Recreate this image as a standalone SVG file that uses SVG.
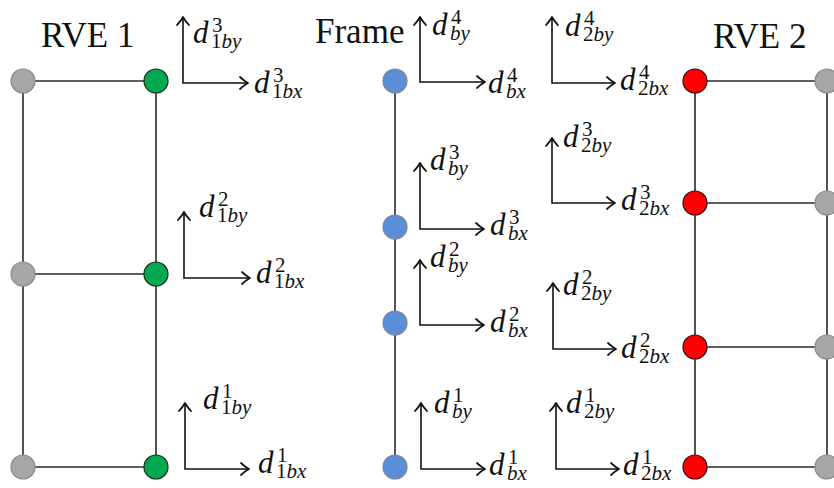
<svg xmlns="http://www.w3.org/2000/svg" width="834" height="488" viewBox="0 0 834 488">
<style>
.ln{stroke:#2a2a2a;stroke-width:1.6;fill:none}
.ax{stroke:#111;stroke-width:1.6;fill:none;marker-start:url(#ah);marker-end:url(#ah)}
.gray{fill:#a6a6a6;stroke:#8a8a8a;stroke-width:1.2}
.green{fill:#00a94f;stroke:#1c2e1c;stroke-width:1.2}
.blue{fill:#5a8fd8;stroke:#7d8793;stroke-width:1.2}
.red{fill:#ff0000;stroke:#3a0a0a;stroke-width:1.2}
.title{font-family:"Liberation Serif","DejaVu Serif",serif;font-size:35px;fill:#111}
.m{font-family:"Liberation Serif","DejaVu Serif",serif;font-size:31px;fill:#111}
.it{font-style:italic}
.s{font-size:21px}
</style>
<defs>
<marker id="ah" viewBox="-10 -10 20 20" refX="0" refY="0" markerWidth="20" markerHeight="20" markerUnits="userSpaceOnUse" orient="auto-start-reverse" overflow="visible">
<path d="M-8,-6 Q-3,-1.5 0,0 Q-3,1.5 -8,6" stroke="#111" stroke-width="1.8" fill="none" stroke-linecap="round" stroke-linejoin="round"/>
</marker>
</defs>
<rect width="834" height="488" fill="#fff"/>
<g id="connectors">
<path class="ln" d="M23,81V467M156,81V467M23,81H156M23,274H156M23,467H156"/>
<path class="ln" d="M395,81V467"/>
<path class="ln" d="M695,81V467M827,81V467M695,81H827M695,203H827M695,347H827M695,467H827"/>
<path class="ax" d="M183,17V83H248"/>
<path class="ax" d="M184,212V278H250"/>
<path class="ax" d="M185,403V469H249"/>
<path class="ax" d="M420,17V82H485"/>
<path class="ax" d="M420,163V229H484"/>
<path class="ax" d="M420,260V325H484"/>
<path class="ax" d="M421,403V469H485"/>
<path class="ax" d="M552,17V83H615"/>
<path class="ax" d="M552,138V203H615"/>
<path class="ax" d="M553,283V349H616"/>
<path class="ax" d="M556,403V469H619"/>
</g>
<g id="rve1">
<text class="title" x="41" y="47">RVE 1</text>
<circle class="gray" cx="23" cy="81" r="12"/>
<circle class="gray" cx="23" cy="274" r="12"/>
<circle class="gray" cx="23" cy="467" r="12"/>
<circle class="green" cx="156" cy="81" r="12"/>
<circle class="green" cx="156" cy="274" r="12"/>
<circle class="green" cx="156" cy="467" r="12"/>
</g>
<g id="frame">
<text class="title" x="315" y="43">Frame</text>
<circle class="blue" cx="395" cy="81" r="12"/>
<circle class="blue" cx="395" cy="227" r="12"/>
<circle class="blue" cx="395" cy="323" r="12"/>
<circle class="blue" cx="395" cy="467" r="12"/>
</g>
<g id="rve2">
<text class="title" x="713" y="48">RVE 2</text>
<circle class="red" cx="695" cy="81" r="12"/>
<circle class="red" cx="695" cy="203" r="12"/>
<circle class="red" cx="695" cy="347" r="12"/>
<circle class="red" cx="695" cy="467" r="12"/>
<circle class="gray" cx="827" cy="81" r="12"/>
<circle class="gray" cx="827" cy="203" r="12"/>
<circle class="gray" cx="827" cy="347" r="12"/>
<circle class="gray" cx="827" cy="467" r="12"/>
</g>
<g id="labels">
<text class="m" x="193" y="43"><tspan class="it">d</tspan><tspan class="s" x="212" y="32">3</tspan><tspan class="s" x="211" y="48">1<tspan class="it">by</tspan></tspan></text>
<text class="m" x="254" y="93"><tspan class="it">d</tspan><tspan class="s" x="273" y="82">3</tspan><tspan class="s" x="272" y="98">1<tspan class="it">bx</tspan></tspan></text>
<text class="m" x="199" y="217"><tspan class="it">d</tspan><tspan class="s" x="218" y="206">2</tspan><tspan class="s" x="217" y="222">1<tspan class="it">by</tspan></tspan></text>
<text class="m" x="256" y="283"><tspan class="it">d</tspan><tspan class="s" x="275" y="272">2</tspan><tspan class="s" x="274" y="288">1<tspan class="it">bx</tspan></tspan></text>
<text class="m" x="203" y="409"><tspan class="it">d</tspan><tspan class="s" x="222" y="398">1</tspan><tspan class="s" x="221" y="414">1<tspan class="it">by</tspan></tspan></text>
<text class="m" x="258" y="473"><tspan class="it">d</tspan><tspan class="s" x="277" y="462">1</tspan><tspan class="s" x="276" y="478">1<tspan class="it">bx</tspan></tspan></text>
<text class="m" x="432" y="35"><tspan class="it">d</tspan><tspan class="s" x="451" y="24">4</tspan><tspan class="s it" x="450" y="40">by</tspan></text>
<text class="m" x="488" y="93"><tspan class="it">d</tspan><tspan class="s" x="507" y="82">4</tspan><tspan class="s it" x="506" y="98">bx</tspan></text>
<text class="m" x="430" y="170"><tspan class="it">d</tspan><tspan class="s" x="449" y="159">3</tspan><tspan class="s it" x="448" y="175">by</tspan></text>
<text class="m" x="490" y="235"><tspan class="it">d</tspan><tspan class="s" x="509" y="224">3</tspan><tspan class="s it" x="508" y="240">bx</tspan></text>
<text class="m" x="430" y="267"><tspan class="it">d</tspan><tspan class="s" x="449" y="256">2</tspan><tspan class="s it" x="448" y="272">by</tspan></text>
<text class="m" x="490" y="332"><tspan class="it">d</tspan><tspan class="s" x="509" y="321">2</tspan><tspan class="s it" x="508" y="337">bx</tspan></text>
<text class="m" x="434" y="413"><tspan class="it">d</tspan><tspan class="s" x="453" y="402">1</tspan><tspan class="s it" x="452" y="418">by</tspan></text>
<text class="m" x="489" y="475"><tspan class="it">d</tspan><tspan class="s" x="508" y="464">1</tspan><tspan class="s it" x="507" y="480">bx</tspan></text>
<text class="m" x="565" y="36"><tspan class="it">d</tspan><tspan class="s" x="584" y="25">4</tspan><tspan class="s" x="583" y="41">2<tspan class="it">by</tspan></tspan></text>
<text class="m" x="620" y="90"><tspan class="it">d</tspan><tspan class="s" x="639" y="79">4</tspan><tspan class="s" x="638" y="95">2<tspan class="it">bx</tspan></tspan></text>
<text class="m" x="563" y="147"><tspan class="it">d</tspan><tspan class="s" x="582" y="136">3</tspan><tspan class="s" x="581" y="152">2<tspan class="it">by</tspan></tspan></text>
<text class="m" x="621" y="210"><tspan class="it">d</tspan><tspan class="s" x="640" y="199">3</tspan><tspan class="s" x="639" y="215">2<tspan class="it">bx</tspan></tspan></text>
<text class="m" x="563" y="295"><tspan class="it">d</tspan><tspan class="s" x="582" y="284">2</tspan><tspan class="s" x="581" y="300">2<tspan class="it">by</tspan></tspan></text>
<text class="m" x="621" y="358"><tspan class="it">d</tspan><tspan class="s" x="640" y="347">2</tspan><tspan class="s" x="639" y="363">2<tspan class="it">bx</tspan></tspan></text>
<text class="m" x="566" y="413"><tspan class="it">d</tspan><tspan class="s" x="585" y="402">1</tspan><tspan class="s" x="584" y="418">2<tspan class="it">by</tspan></tspan></text>
<text class="m" x="623" y="475"><tspan class="it">d</tspan><tspan class="s" x="642" y="464">1</tspan><tspan class="s" x="641" y="480">2<tspan class="it">bx</tspan></tspan></text>
</g>
</svg>
